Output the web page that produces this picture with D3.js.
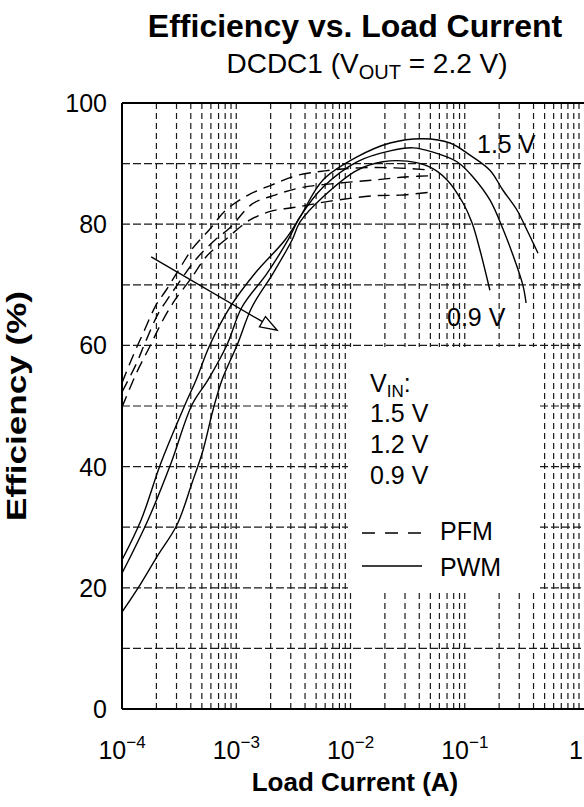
<!DOCTYPE html>
<html><head><meta charset="utf-8">
<script src="https://cdn.jsdelivr.net/npm/d3@7"></script>
<style>
body{margin:0;background:#fff}
svg{display:block}
text{font-family:"Liberation Sans",Arial,Helvetica,sans-serif;fill:#000}
</style>
</head><body>
<svg id="c" width="584" height="807"></svg>
<script>
// ---- data ----
const xTicks = [1e-4, 1e-3, 1e-2, 1e-1, 1];
const xTickBase = ["10", "10", "10", "10", "1"];
const xTickExp = ["\u22124", "\u22123", "\u22122", "\u22121", ""];
const yTicks = [0, 20, 40, 60, 80, 100];
const yGrid = [10, 20, 30, 40, 50, 60, 70, 80, 90];
const vinLabels = ["1.5 V", "1.2 V", "0.9 V"];

// PWM (solid) : [load current A, efficiency %]
const pwm15 = [[1.00e-4,24.6],[1.47e-4,31.2],[2.19e-4,40.6],[3.56e-4,50.2],[4.45e-4,54.3],[5.89e-4,60.1],[8.82e-4,66.3],[1.46e-3,71.9],[2.67e-3,77.4],[3.62e-3,81.2],[5.74e-3,87.3],[0.0114,91.1],[0.0222,93.4],[0.0431,94.1],[0.0743,93.4],[0.111,91.4],[0.166,88.9],[0.216,85.6],[0.287,82.3],[0.351,79.0],[0.438,75.2]];
const pwm12 = [[1.00e-4,22.4],[1.69e-4,31.2],[2.69e-4,40.6],[4.10e-4,50.2],[5.66e-4,54.3],[8.30e-4,60.1],[1.12e-3,66.3],[1.86e-3,71.9],[2.84e-3,77.4],[3.62e-3,81.2],[5.74e-3,86.1],[0.0114,90.3],[0.0222,92.1],[0.0352,92.6],[0.0527,91.9],[0.0855,90.3],[0.118,87.8],[0.166,84.0],[0.216,79.2],[0.264,74.9],[0.323,69.9],[0.344,67.0]];
const pwm09 = [[1.00e-4,16.0],[1.44e-4,20.5],[2.02e-4,25.1],[3.03e-4,30.4],[4.10e-4,37.3],[5.12e-4,42.7],[6.25e-4,49.3],[7.50e-4,54.3],[1.02e-3,60.1],[1.37e-3,66.3],[2.10e-3,71.9],[3.08e-3,77.4],[3.62e-3,80.4],[5.74e-3,84.5],[0.0114,88.9],[0.0192,90.3],[0.0313,90.4],[0.0497,89.4],[0.070,87.3],[0.0966,83.5],[0.116,80.2],[0.136,75.7],[0.166,69.1]];

// PFM (dashed)
const pfm15 = [[1.00e-4,53.8],[1.25e-4,58.3],[1.53e-4,62.0],[1.99e-4,66.7],[2.43e-4,69.1],[3.22e-4,72.8],[4.18e-4,76.1],[5.89e-4,79.2],[7.98e-4,82.2],[1.27e-3,84.8],[2.06e-3,86.5],[3.33e-3,88.0],[5.98e-3,88.8],[0.0121,89.3],[0.0245,89.3],[0.0527,88.9]];
const pfm12 = [[1.00e-4,52.3],[1.33e-4,56.9],[1.59e-4,60.4],[2.07e-4,65.2],[2.63e-4,68.2],[3.56e-4,71.8],[4.62e-4,74.6],[6.52e-4,77.4],[8.81e-4,79.4],[1.37e-3,83.3],[2.18e-3,84.8],[3.61e-3,86.0],[8.09e-3,86.8],[0.0164,87.3],[0.0300,87.8],[0.0548,88.0]];
const pfm09 = [[1.00e-4,49.8],[1.35e-4,55.6],[1.76e-4,59.9],[2.24e-4,63.9],[2.91e-4,67.5],[3.94e-4,70.8],[5.55e-4,74.8],[7.98e-4,77.4],[1.32e-3,80.7],[2.06e-3,82.2],[3.33e-3,82.8],[6.62e-3,83.8],[0.0164,84.7],[0.0271,84.8],[0.0516,85.3]];

// arrow (VIN decreasing direction)
const arrowFrom = [1.80e-4, 74.6];
const arrowTo = [2.28e-3, 62.5];

// ---- drawing ----
const svg = d3.select("#c");
const x = d3.scaleLog().domain([1e-4, 1]).range([122, 579]);
const y = d3.scaleLinear().domain([0, 100]).range([709, 103]);
const plotRight = 584;

svg.append("defs").append("clipPath").attr("id", "clip")
  .append("rect").attr("x", x(1e-4)).attr("y", y(100)).attr("width", plotRight - x(1e-4)).attr("height", y(0) - y(100));

const grid = svg.append("g").attr("clip-path", "url(#clip)");
const minor = x.ticks().filter(v => v > 1e-4 * 1.01);
grid.selectAll("line.v").data(minor).join("line")
  .attr("x1", d => x(d)).attr("x2", d => x(d))
  .attr("y1", y(100)).attr("y2", y(0))
  .attr("stroke", "#1a1a1a").attr("stroke-width", 1.2).attr("stroke-dasharray", "6,4");
grid.selectAll("line.h").data(yGrid).join("line")
  .attr("x1", x(1e-4)).attr("x2", plotRight)
  .attr("y1", d => y(d)).attr("y2", d => y(d))
  .attr("stroke", "#1a1a1a").attr("stroke-width", 1.2).attr("stroke-dasharray", "8,3");

// legend box (covers grid)
svg.append("rect").attr("x", 348).attr("y", 347).attr("width", 192).attr("height", 244).attr("fill", "#fff");

// frame
svg.append("line").attr("x1", x(1e-4)).attr("x2", x(1e-4)).attr("y1", y(100)).attr("y2", y(0)).attr("stroke", "#000").attr("stroke-width", 2);
svg.append("line").attr("x1", x(1e-4)).attr("x2", plotRight).attr("y1", y(0)).attr("y2", y(0)).attr("stroke", "#000").attr("stroke-width", 2);
svg.append("line").attr("x1", x(1e-4)).attr("x2", plotRight).attr("y1", y(100)).attr("y2", y(100)).attr("stroke", "#000").attr("stroke-width", 2);

// curves
const line = d3.line().x(d => x(d[0])).y(d => y(d[1])).curve(d3.curveCatmullRom.alpha(0.5));
const curves = svg.append("g").attr("clip-path", "url(#clip)");
[pwm15, pwm12, pwm09].forEach(s => curves.append("path").attr("d", line(s))
  .attr("fill", "none").attr("stroke", "#000").attr("stroke-width", 1.4));
[pfm15, pfm12, pfm09].forEach(s => curves.append("path").attr("d", line(s))
  .attr("fill", "none").attr("stroke", "#000").attr("stroke-width", 1.4).attr("stroke-dasharray", "12,7"));

// arrow
const ax0 = x(arrowFrom[0]), ay0 = y(arrowFrom[1]), ax1 = x(arrowTo[0]), ay1 = y(arrowTo[1]);
const ang = Math.atan2(ay1 - ay0, ax1 - ax0);
const hl = 17, hw = 6;
const bx = ax1 - hl * Math.cos(ang), by = ay1 - hl * Math.sin(ang);
svg.append("line").attr("x1", ax0).attr("y1", ay0).attr("x2", bx).attr("y2", by).attr("stroke", "#000").attr("stroke-width", 1.4);
svg.append("path").attr("d", `M${ax1},${ay1}L${bx + hw * Math.sin(ang)},${by - hw * Math.cos(ang)}L${bx - hw * Math.sin(ang)},${by + hw * Math.cos(ang)}Z`)
  .attr("fill", "#fff").attr("stroke", "#000").attr("stroke-width", 1.3);

// curve labels
svg.append("text").attr("x", 477).attr("y", 153).attr("font-size", 25).text(vinLabels[0]);
svg.append("text").attr("x", 447).attr("y", 326).attr("font-size", 25).text(vinLabels[2]);

// legend
const lg = svg.append("g").attr("font-size", 25);
const vt = lg.append("text").attr("x", 370).attr("y", 392);
vt.append("tspan").text("V");
vt.append("tspan").attr("font-size", 17).attr("dy", 5).text("IN");
vt.append("tspan").attr("dy", -5).text(":");
vinLabels.forEach((t, i) => lg.append("text").attr("x", 370).attr("y", 422 + i * 31).text(t));
lg.append("line").attr("x1", 362).attr("x2", 422).attr("y1", 533).attr("y2", 533).attr("stroke", "#000").attr("stroke-width", 1.4).attr("stroke-dasharray", "13,10");
lg.append("line").attr("x1", 362).attr("x2", 422).attr("y1", 566).attr("y2", 566).attr("stroke", "#000").attr("stroke-width", 1.4);
lg.append("text").attr("x", 440).attr("y", 540).text("PFM");
lg.append("text").attr("x", 440).attr("y", 576).text("PWM");

// y tick labels
svg.selectAll("text.yt").data(yTicks).join("text")
  .attr("x", 107).attr("y", d => y(d)).attr("dy", "0.36em")
  .attr("text-anchor", "end").attr("font-size", 25).text(d => d);

// x tick labels
xTicks.forEach((v, i) => {
  const t = svg.append("text").attr("x", Math.min(x(v), 576)).attr("y", 759).attr("text-anchor", "middle").attr("font-size", 25);
  t.append("tspan").text(xTickBase[i]);
  if (xTickExp[i]) t.append("tspan").attr("font-size", 17).attr("dy", -11).text(xTickExp[i]);
});

// titles
svg.append("text").attr("x", 355).attr("y", 37).attr("text-anchor", "middle")
  .attr("font-size", 32).attr("font-weight", "bold").text("Efficiency vs. Load Current");
const st = svg.append("text").attr("x", 367).attr("y", 73).attr("text-anchor", "middle").attr("font-size", 28);
st.append("tspan").text("DCDC1 (V");
st.append("tspan").attr("font-size", 20).attr("dy", 6).text("OUT");
st.append("tspan").attr("dy", -6).text(" = 2.2 V)");
svg.append("text").attr("x", 355).attr("y", 791).attr("text-anchor", "middle")
  .attr("font-size", 26).attr("font-weight", "bold").text("Load Current (A)");
svg.append("text").attr("transform", "translate(26,406) rotate(-90)").attr("text-anchor", "middle")
  .attr("font-size", 27).attr("font-weight", "bold")
  .attr("textLength", 230).attr("lengthAdjust", "spacingAndGlyphs").text("Efficiency (%)");
</script>
</body></html>
